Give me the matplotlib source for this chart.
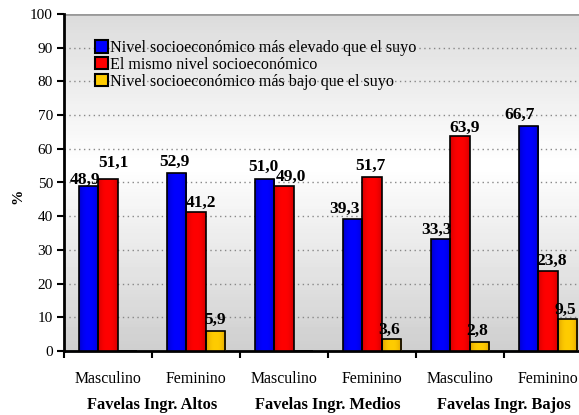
import matplotlib
matplotlib.use("Agg")
import matplotlib.pyplot as plt
import matplotlib.colors as mcolors
import numpy as np

categories = ["Masculino", "Feminino", "Masculino", "Feminino", "Masculino", "Feminino"]
groups = ["Favelas Ingr. Altos", "Favelas Ingr. Medios", "Favelas Ingr. Bajos"]
series_names = ["Nivel socioeconómico más elevado que el suyo",
                "El mismo nivel socioeconómico",
                "Nivel socioeconómico más bajo que el suyo"]
mas_elevado = [48.9, 52.9, 51.0, 39.3, 33.3, 66.7]
mismo = [51.1, 41.2, 49.0, 51.7, 63.9, 23.8]
mas_bajo = [0.0, 5.9, 0.0, 3.6, 2.8, 9.5]
yticks = list(range(0, 101, 10))

colors = ["#0000ff", "#ff0000", "#ffcc00"]
edge_shades = ["#0000c8", "#d00000", "#dca000"]
# label offsets in pixels (dx, gap above bar) per series / category
label_dx = [[-4, -2, -1.5, -8, -4, -9],
            [5, 5, 7, -2, 5, 3.5],
            [0, 0, 0, -2, -2, -2]]
label_gap = [[2, 7, 8, 6, 5, 7],
             [12, 5, 5, 7, 4, 6],
             [6, 7, 6, 5, 7, 5]]

plt.rcParams['font.family'] = ['Liberation Serif', 'DejaVu Serif']

W, H = 579, 415
fig = plt.figure(figsize=(W / 100, H / 100), dpi=100)
left, right, top, bottom = 64, 592, 14, 351
ax = fig.add_axes([left / W, 1 - bottom / H, (right - left) / W, (bottom - top) / H])

# gradient background
grad = np.concatenate([np.linspace(0.81, 1.0, 55), np.linspace(1.0, 0.86, 45)])[:, None]
ax.imshow(grad, extent=[-0.5, 5.5, 100, 0], cmap='gray', vmin=0, vmax=1,
          aspect='auto', zorder=0)

x = np.arange(len(categories))
w = 0.22
series = [mas_elevado, mismo, mas_bajo]
px = 0.72  # points per pixel
tprof = np.linspace(0, 1, 40)
weight = np.abs(2 * tprof - 1) ** 2.5
for i, (vals, c, name) in enumerate(zip(series, colors, series_names)):
    xs = x + (i - 1) * w
    bars = ax.bar(xs, vals, w, color=c, edgecolor='none', label=name, zorder=3)
    c0 = np.array(mcolors.to_rgb(c))
    c1 = np.array(mcolors.to_rgb(edge_shades[i]))
    img = (c0[None, :] * (1 - weight[:, None]) + c1[None, :] * weight[:, None])[None, :, :]
    for b in bars:
        if b.get_height() > 0:
            im = ax.imshow(img, extent=[b.get_x(), b.get_x() + b.get_width(), 0, b.get_height()],
                           aspect='auto', zorder=3.2, interpolation='bilinear')
            im.set_clip_path(b)
    ax.bar(xs, vals, w, fill=False, edgecolor='black', linewidth=1.2, zorder=3.5)
    for j, (xx, v) in enumerate(zip(xs, vals)):
        if v > 0:
            ax.annotate(f"{v:.1f}".replace('.', ','), (xx, v),
                        xytext=(label_dx[i][j] * px, label_gap[i][j] * px),
                        textcoords='offset points', ha='center', va='baseline',
                        fontsize=12.5, fontweight='bold', zorder=4)

ax.set_xlim(-0.5, 5.5)
ax.set_ylim(0, 100)
ax.set_yticks(yticks)
ax.set_yticklabels([str(t) for t in yticks], fontsize=11)
for t in yticks[1:-1]:
    ax.axhline(t, color='#888888', linestyle=(0, (1, 2.5)), linewidth=1, zorder=1)
ax.axhline(100, color='#999999', linewidth=2, zorder=1)

ax.set_xticks(np.arange(-0.5, 6, 1))
ax.set_xticklabels([])
ax.tick_params(axis='x', length=5, width=1.5, direction='out')
ax.tick_params(axis='y', length=5, width=1.5, direction='out', pad=3)
for xx, c in zip(x, categories):
    fig.text((left + (xx + 0.5) * 88) / W, 1 - 371 / H, c, ha='center', va='top', fontsize=11.4)
for gi, g in enumerate(groups):
    fig.text((left + (2 * gi + 1) * 88) / W, 1 - 397 / H, g, ha='center', va='top',
             fontsize=11.8, fontweight='bold')

for s in ['top', 'right']:
    ax.spines[s].set_visible(False)
for s in ['left', 'bottom']:
    ax.spines[s].set_linewidth(2)
fig.text(18 / W, 1 - 196 / H, '%', rotation=90, ha='center', va='center',
         fontsize=11, fontweight='bold')

leg = ax.legend(loc='upper left', bbox_to_anchor=(31 / (right - left), 1 - 26 / (bottom - top)),
                frameon=False, fontsize=11.6, handlelength=0.8, handleheight=0.8,
                handletextpad=0.15, labelspacing=0.05, borderpad=0, borderaxespad=0)
for h in leg.legend_handles:
    h.set_edgecolor('black')
    h.set_linewidth(1.5)

fig.savefig("out.png", dpi=100)
